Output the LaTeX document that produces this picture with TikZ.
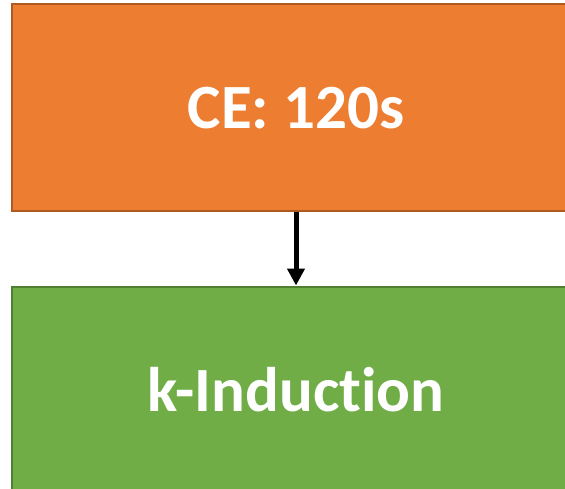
\documentclass[tikz,border=0pt]{standalone}
\usepackage{fontspec}
\setmainfont[Ligatures=NoCommon]{Carlito}
\usetikzlibrary{positioning, arrows.meta}

\definecolor{ceorange}{HTML}{ED7D31}
\definecolor{ceborder}{HTML}{AE5A21}
\definecolor{kgreen}{HTML}{70AD47}
\definecolor{kborder}{HTML}{507E32}

\tikzset{
    stagebox/.style={rectangle, minimum width=568pt, minimum height=207pt,
        line width=2pt, text=white, font=\fontsize{63}{68}\selectfont\bfseries, inner sep=0pt},
    flow/.style={-{Triangle[length=17pt, width=17pt]}, line width=5pt}
}

\begin{document}
\begin{tikzpicture}[x=1pt, y=-1pt, node distance=73pt]
    \useasboundingbox (0,0) rectangle (565,489);
    \clip (0,0) rectangle (565,489);
    \node[stagebox, fill=ceorange, draw=ceborder] (ce) at (296,108) {CE: 120s};
    \node[stagebox, fill=kgreen, draw=kborder, below=of ce] (kind) {k-Induction};
    \draw[flow] (ce) -- (kind);
\end{tikzpicture}
\end{document}
